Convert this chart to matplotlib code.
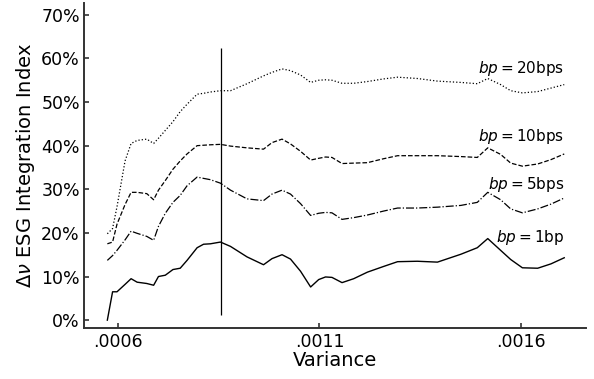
import matplotlib
matplotlib.use("Agg")
import matplotlib.pyplot as plt
from matplotlib.ticker import FuncFormatter, PercentFormatter

# variance grid (x) shared by all four curves
variance = [0.000573, 0.000586, 0.000597, 0.000617, 0.000632, 0.000647, 0.000671,
            0.000688, 0.000700, 0.000717, 0.000736, 0.000754, 0.000771, 0.000796,
            0.000812, 0.000829, 0.000854, 0.000879, 0.000920, 0.000961, 0.000982,
            0.001007, 0.001028, 0.001053, 0.001078, 0.001098, 0.001115, 0.001131,
            0.001156, 0.001185, 0.001219, 0.001259, 0.001294, 0.001343, 0.001393,
            0.001451, 0.001492, 0.001518, 0.001550, 0.001575, 0.001604, 0.001642,
            0.001675, 0.001708]

# delta ESG integration index, in percent
bp1 = [0.0, 6.5, 6.5, 8.2, 9.5, 8.7, 8.4, 8.0, 10.0, 10.3, 11.6, 11.9, 13.7, 16.6,
       17.4, 17.5, 17.9, 16.9, 14.5, 12.7, 14.1, 15.0, 14.0, 11.2, 7.6, 9.3, 9.9,
       9.8, 8.6, 9.5, 11.0, 12.3, 13.4, 13.5, 13.3, 15.1, 16.6, 18.7, 16.0, 13.9,
       12.0, 11.9, 12.9, 14.3]
bp5 = [13.7, 14.8, 16.0, 18.4, 20.4, 19.9, 19.2, 18.3, 21.5, 24.5, 27.0, 28.6,
       30.8, 32.8, 32.5, 32.2, 31.4, 29.8, 27.8, 27.4, 28.9, 29.8, 28.9, 26.7, 24.0,
       24.5, 24.7, 24.6, 23.1, 23.5, 24.1, 25.0, 25.7, 25.7, 25.9, 26.3, 27.0, 29.3,
       27.6, 25.5, 24.6, 25.5, 26.6, 28.0]
bp10 = [17.5, 17.9, 22.0, 26.5, 29.3, 29.3, 29.0, 27.6, 29.8, 32.0, 34.6, 36.5,
        38.1, 40.0, 40.1, 40.2, 40.3, 39.9, 39.5, 39.2, 40.7, 41.5, 40.4, 38.7, 36.7,
        37.1, 37.4, 37.3, 35.9, 36.0, 36.1, 37.0, 37.7, 37.7, 37.7, 37.5, 37.3, 39.5,
        38.0, 36.0, 35.3, 35.8, 36.8, 38.1]
bp20 = [19.8, 21.0, 26.0, 36.5, 40.5, 41.2, 41.5, 40.5, 41.7, 43.5, 45.5, 47.8,
        49.5, 51.8, 52.0, 52.3, 52.6, 52.6, 54.2, 56.0, 56.8, 57.6, 57.2, 56.2, 54.5,
        55.0, 55.1, 55.0, 54.3, 54.3, 54.7, 55.3, 55.7, 55.4, 54.8, 54.5, 54.2, 55.4,
        54.0, 52.6, 52.1, 52.4, 53.2, 54.0]

labels = [r"$bp=$1bp", r"$bp=$5bps", r"$bp=$10bps", r"$bp=$20bps"]
label_y = [19.0, 31.1, 42.2, 57.8]

marker_x = 0.000856
marker_lo, marker_hi = 1.1, 62.3

series = [bp1, bp5, bp10, bp20]
styles = ["-", "-.", "--", ":"]
widths = [1.0, 0.9, 0.9, 0.9]

fig = plt.figure(figsize=(5.94, 3.79), dpi=100)
ax = fig.add_axes([0.1414, 0.1346, 0.8451, 0.8574])

for vals, ls, lw in zip(series, styles, widths):
    ax.plot(variance, [v / 100 for v in vals], ls, color="black", lw=lw)

for txt, y in zip(labels, label_y):
    ax.text(variance[-1], y / 100, txt, ha="right", va="center", fontsize=11)

ax.vlines(marker_x, marker_lo / 100, marker_hi / 100, color="black", lw=0.9)

ax.set_xlim(0.000515, 0.001762)
ax.set_ylim(-0.018, 0.727)
ax.set_xticks([0.0006, 0.0011, 0.0016])
ax.set_yticks([0, 0.1, 0.2, 0.3, 0.4, 0.5, 0.6, 0.7])
ax.xaxis.set_major_formatter(FuncFormatter(lambda x, p: f"{x:.4f}".lstrip("0")))
ax.yaxis.set_major_formatter(PercentFormatter(1.0, decimals=0))
ax.tick_params(direction="in", labelsize=12.5, color="#333333", width=1.2)
ax.tick_params(axis="y", pad=3)

for s in ["top", "right"]:
    ax.spines[s].set_visible(False)
for s in ["left", "bottom"]:
    ax.spines[s].set_linewidth(1.4)
    ax.spines[s].set_color("#333333")

ax.set_xlabel("Variance", fontsize=14, labelpad=0)
ax.set_ylabel(r"$\Delta\nu$ ESG Integration Index", fontsize=14, labelpad=3)

fig.savefig("out.png", dpi=100)
